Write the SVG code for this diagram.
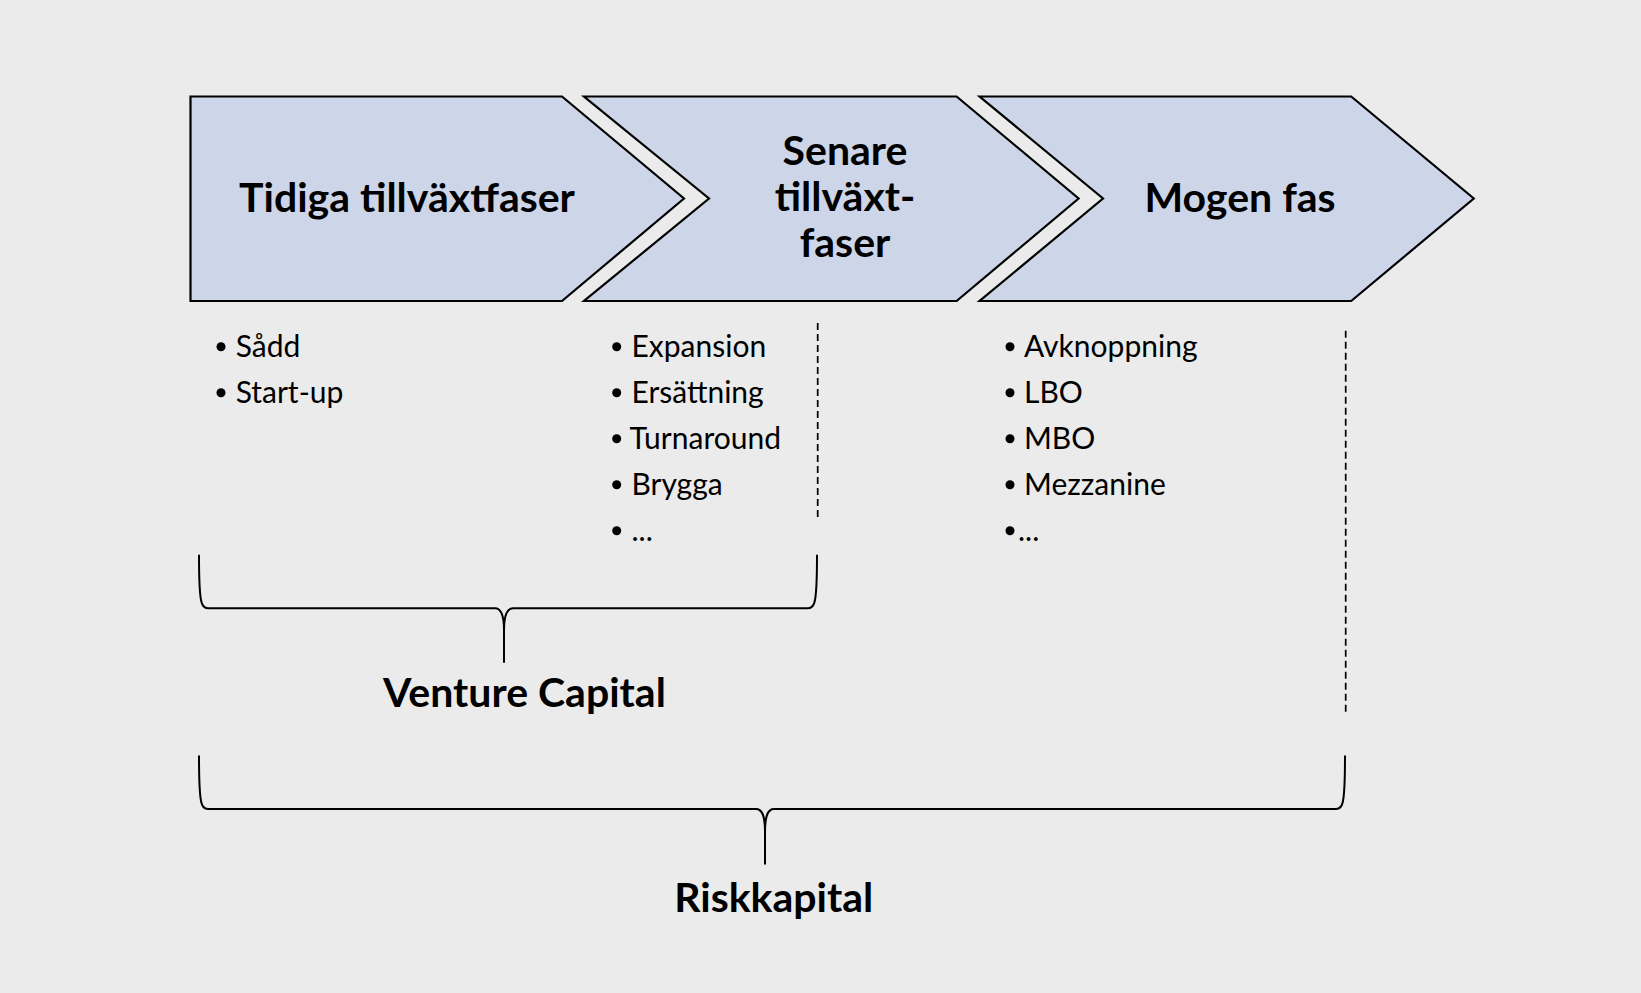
<svg xmlns="http://www.w3.org/2000/svg" width="1641" height="993" viewBox="0 0 1641 993">
  <style>
    .phase { fill: #CDD5E8; stroke: #000000; stroke-width: 2.2; stroke-linejoin: miter; }
    .head { font-family: Lato, "Open Sans", "Liberation Sans", sans-serif; font-weight: 700; font-size: 41px; fill: #000000; text-anchor: middle; }
    .item { font-family: Lato, "Open Sans", "Liberation Sans", sans-serif; font-weight: 400; font-size: 30px; fill: #000000; }
    .dot { fill: #000000; }
    .brace { fill: none; stroke: #000000; stroke-width: 2; stroke-linecap: butt; }
    .dash { fill: none; stroke: #000000; stroke-width: 1.7; stroke-dasharray: 7 4; }
  </style>
  <rect x="0" y="0" width="1641" height="993" fill="#EAEBEA"/>

  <g id="phase-tidiga">
    <path class="phase" d="M190.5,96.5 H562 L684,198.5 L562,301 H190.5 Z"/>
    <text class="head" x="407" y="212.3">Tidiga tillväxtfaser</text>
  </g>

  <g id="phase-senare">
    <path class="phase" d="M584,96.5 H956.6 L1078.6,198.5 L956.6,301 H584 L709,198.5 Z"/>
    <text class="head" x="845" y="165">Senare</text>
    <text class="head" x="845" y="210.7">tillväxt-</text>
    <text class="head" x="845" y="256.7">faser</text>
  </g>

  <g id="phase-mogen">
    <path class="phase" d="M979.6,96.5 H1351.2 L1473.8,198.5 L1351.2,301 H979.6 L1103,198.5 Z"/>
    <text class="head" x="1240" y="212.3">Mogen fas</text>
  </g>

  <g id="list-tidiga">
    <circle class="dot" cx="221" cy="346.7" r="4.5"/>
    <text class="item" x="235.7" y="357.3">Sådd</text>
    <circle class="dot" cx="221" cy="392.7" r="4.5"/>
    <text class="item" x="235.7" y="403.3">Start-up</text>
  </g>

  <g id="list-senare">
    <circle class="dot" cx="616.7" cy="346.7" r="4.5"/>
    <text class="item" x="631.5" y="357.3">Expansion</text>
    <circle class="dot" cx="616.7" cy="392.7" r="4.5"/>
    <text class="item" x="631.5" y="403.3">Ersättning</text>
    <circle class="dot" cx="616.7" cy="438.7" r="4.5"/>
    <text class="item" x="629.5" y="449.3">Turnaround</text>
    <circle class="dot" cx="616.7" cy="484.7" r="4.5"/>
    <text class="item" x="631.5" y="495.3">Brygga</text>
    <circle class="dot" cx="616.7" cy="530.7" r="4.5"/>
    <text class="item" x="631.5" y="541.3">...</text>
  </g>

  <g id="list-mogen">
    <circle class="dot" cx="1010" cy="346.7" r="4.5"/>
    <text class="item" x="1024" y="357.3">Avknoppning</text>
    <circle class="dot" cx="1010" cy="392.7" r="4.5"/>
    <text class="item" x="1024" y="403.3">LBO</text>
    <circle class="dot" cx="1010" cy="438.7" r="4.5"/>
    <text class="item" x="1024" y="449.3">MBO</text>
    <circle class="dot" cx="1010" cy="484.7" r="4.5"/>
    <text class="item" x="1024" y="495.3">Mezzanine</text>
    <circle class="dot" cx="1010" cy="530.7" r="4.5"/>
    <text class="item" x="1018" y="541.3">...</text>
  </g>

  <g id="label-venture">
    <text class="head" x="524.5" y="706.7">Venture Capital</text>
  </g>

  <g id="label-riskkapital">
    <text class="head" x="773.7" y="911.7">Riskkapital</text>
  </g>

  <g id="connectors">
    <path class="dash" d="M817.7,323 V520.7"/>
    <path class="dash" d="M1345.7,330.7 V713.8"/>
    <path class="brace" d="M199,554.7 C199,575 199.5,592 201,600 C202,606 204,608.3 208,608.3 H495 C501,608.3 504,614 504,630 V662.7 M504,630 C504,614 507,608.3 513,608.3 H808 C812,608.3 814,606 815,600 C816.5,592 817,575 817,554.7"/>
    <path class="brace" d="M199,755.6 C199,776 199.5,793 201,801 C202,807 204,809 208,809 H756 C762,809 765,815 765,832 V864.5 M765,832 C765,815 768,809 774,809 H1336 C1340,809 1342,807 1343,801 C1344.5,793 1345,776 1345,755.6"/>
  </g>
</svg>
